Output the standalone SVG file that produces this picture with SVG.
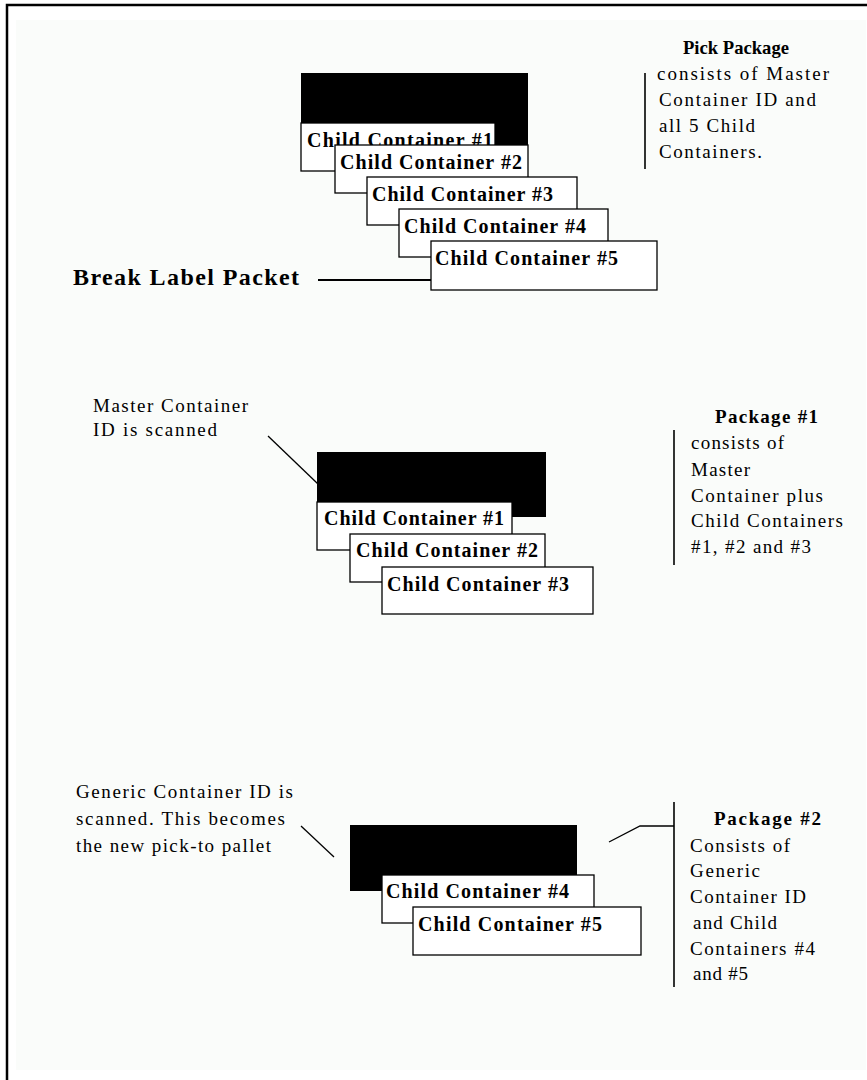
<svg xmlns="http://www.w3.org/2000/svg" width="867" height="1080" viewBox="0 0 867 1080">
<style>
.box{fill:#fff;stroke:#000;stroke-width:1.3}
.mst{fill:#000}
.bt{font-family:"Liberation Serif","Times New Roman",serif;font-weight:bold;font-size:20px;fill:#000}
.tt{font-family:"Liberation Serif","Times New Roman",serif;font-weight:bold;font-size:19px;fill:#000}
.rt{font-family:"Liberation Serif","Times New Roman",serif;font-size:19px;fill:#000}
.ln{stroke:#000;stroke-width:1.3;fill:none}
.vl{stroke:#000;stroke-width:1.6;fill:none}
</style>
<rect x="16" y="20" width="850" height="1050" fill="#fafcfa"/>
<path d="M7 1080 V5 H867" fill="none" stroke="#000" stroke-width="2.5"/>

<g id="pick-package">
<rect class="mst" x="301" y="73" width="227" height="73"/>
<rect class="box" x="301" y="123" width="194" height="48"/>
<text class="bt" x="307" y="147" textLength="186" lengthAdjust="spacing">Child Container #1</text>
<rect class="box" x="335" y="145" width="193" height="48"/>
<text class="bt" x="340" y="169" textLength="182" lengthAdjust="spacing">Child Container #2</text>
<rect class="box" x="367" y="177" width="210" height="48"/>
<text class="bt" x="372" y="201" textLength="181" lengthAdjust="spacing">Child Container #3</text>
<rect class="box" x="399" y="209" width="209" height="48"/>
<text class="bt" x="404" y="233" textLength="182" lengthAdjust="spacing">Child Container #4</text>
<rect class="box" x="431" y="241" width="226" height="49"/>
<text class="bt" x="435" y="265" textLength="183" lengthAdjust="spacing">Child Container #5</text>
</g>

<g id="pick-package-note">
<text class="tt" x="683" y="54" textLength="106" lengthAdjust="spacingAndGlyphs">Pick Package</text>
<text class="rt" x="657" y="80" textLength="172" lengthAdjust="spacing">consists of Master</text>
<text class="rt" x="659" y="106" textLength="157" lengthAdjust="spacing">Container ID and</text>
<text class="rt" x="659" y="132" textLength="96" lengthAdjust="spacing">all 5 Child</text>
<text class="rt" x="659" y="158" textLength="103" lengthAdjust="spacing">Containers.</text>
</g>

<g id="break-label">
<text class="bt" x="73" y="285" style="font-size:24px" textLength="226" lengthAdjust="spacing">Break Label Packet</text>
</g>

<g id="package-1">
<rect class="mst" x="317" y="452" width="229" height="65"/>
<rect class="box" x="317" y="502" width="195" height="48"/>
<text class="bt" x="324" y="525" textLength="180" lengthAdjust="spacing">Child Container #1</text>
<rect class="box" x="350" y="534" width="195" height="48"/>
<text class="bt" x="356" y="557" textLength="182" lengthAdjust="spacing">Child Container #2</text>
<rect class="box" x="382" y="567" width="211" height="47"/>
<text class="bt" x="387" y="591" textLength="182" lengthAdjust="spacing">Child Container #3</text>
</g>

<g id="master-scan-note">
<text class="rt" x="93" y="412" textLength="155" lengthAdjust="spacing">Master Container</text>
<text class="rt" x="93" y="436" textLength="124" lengthAdjust="spacing">ID is scanned</text>
</g>

<g id="package-1-note">
<text class="tt" x="715" y="423" textLength="103" lengthAdjust="spacing">Package #1</text>
<text class="rt" x="691" y="449" textLength="93" lengthAdjust="spacing">consists of</text>
<text class="rt" x="691" y="476" textLength="59" lengthAdjust="spacing">Master</text>
<text class="rt" x="691" y="502" textLength="132" lengthAdjust="spacing">Container plus</text>
<text class="rt" x="691" y="527" textLength="152" lengthAdjust="spacing">Child Containers</text>
<text class="rt" x="691" y="553" textLength="120" lengthAdjust="spacing">#1, #2  and #3</text>
</g>

<g id="package-2">
<rect class="mst" x="350" y="825" width="227" height="66"/>
<rect class="box" x="382" y="875" width="212" height="48"/>
<text class="bt" x="386" y="898" textLength="183" lengthAdjust="spacing">Child Container #4</text>
<rect class="box" x="413" y="907" width="228" height="48"/>
<text class="bt" x="418" y="931" textLength="184" lengthAdjust="spacing">Child Container #5</text>
</g>

<g id="generic-scan-note">
<text class="rt" x="76" y="798" textLength="217" lengthAdjust="spacing">Generic Container ID is</text>
<text class="rt" x="76" y="825" textLength="209" lengthAdjust="spacing">scanned. This becomes</text>
<text class="rt" x="76" y="852" textLength="195" lengthAdjust="spacing">the new pick-to pallet</text>
</g>

<g id="package-2-note">
<text class="tt" x="714" y="825" textLength="107" lengthAdjust="spacing">Package #2</text>
<text class="rt" x="690" y="852" textLength="100" lengthAdjust="spacing">Consists of</text>
<text class="rt" x="690" y="877" textLength="70" lengthAdjust="spacing">Generic</text>
<text class="rt" x="690" y="903" textLength="116" lengthAdjust="spacing">Container ID</text>
<text class="rt" x="693" y="929" textLength="84" lengthAdjust="spacing">and Child</text>
<text class="rt" x="690" y="955" textLength="125" lengthAdjust="spacing">Containers #4</text>
<text class="rt" x="693" y="980" textLength="55" lengthAdjust="spacing">and #5</text>
</g>

<g id="connectors">
<line class="vl" x1="645" y1="73" x2="645" y2="169"/>
<line x1="318" y1="280" x2="431" y2="280" stroke="#000" stroke-width="2"/>
<line class="ln" x1="268" y1="436" x2="318" y2="484"/>
<line class="vl" x1="674" y1="430" x2="674" y2="565"/>
<line class="ln" x1="301" y1="826" x2="334" y2="857"/>
<polyline class="ln" points="609,842 640,826 674,826"/>
<line class="vl" x1="674" y1="802" x2="674" y2="987"/>
</g>
</svg>
